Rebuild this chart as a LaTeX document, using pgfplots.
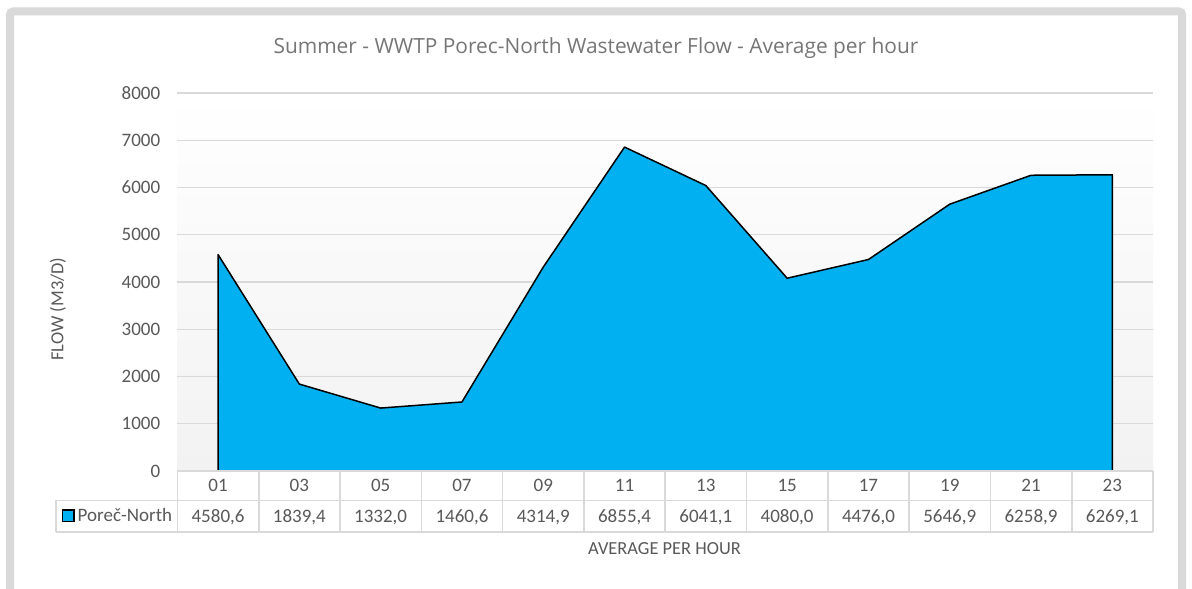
\documentclass[border=0pt]{standalone}
\usepackage{pgfplots}
\pgfplotsset{compat=1.18}
\usepackage{pgfplotstable}
\usepackage{fontspec}
\setmainfont{Carlito}
\newfontfamily\titlefont{Open Sans}
\definecolor{areablue}{RGB}{0,176,240}
\definecolor{gridgray}{RGB}{217,217,217}
\definecolor{txtgray}{RGB}{89,89,89}
\definecolor{titlegray}{RGB}{118,118,118}
\definecolor{bggray}{RGB}{242,242,242}
\definecolor{framegray}{RGB}{217,217,217}

\pgfplotstableread{
x hour flow
0 01 4580.6
1 03 1839.4
2 05 1332.0
3 07 1460.6
4 09 4314.9
5 11 6855.4
6 13 6041.1
7 15 4080.0
8 17 4476.0
9 19 5646.9
10 21 6258.9
11 23 6269.1
}\flowdata

\begin{document}
\begin{tikzpicture}[x=1pt,y=1pt]
\useasboundingbox (0,0) rectangle (1192,589);
\clip (0,0) rectangle (1192,589);
\fill[white] (0,0) rectangle (1192,589);
\draw[framegray, line width=8pt, rounded corners=3pt] (10,577.5) rectangle (1182,-20);

\begin{axis}[
  at={(177.4pt,118pt)}, anchor=south west,
  width=975.6pt, height=378pt, scale only axis,
  xmin=-0.5, xmax=11.5, ymin=0, ymax=8000,
  ytick={0,1000,...,8000},
  xtick=\empty,
  ymajorgrids, grid style={gridgray, line width=1.3pt},
  axis line style={draw=none},
  major tick length=0pt,
  axis background/.style={shade, top color=white, bottom color=bggray},
  /pgf/number format/assume math mode=true,
  /pgf/number format/1000 sep={},
  yticklabel style={font=\fontsize{19}{22}\selectfont, text=txtgray, anchor=east, inner sep=0pt, xshift=-17pt},
  clip=false,
]
\addplot[fill=areablue, draw=black, line width=1.5pt, line join=round] table[x=x, y=flow] {\flowdata} \closedcycle;
\addplot[draw=none, mark=none, point meta=explicit symbolic, nodes near coords,
  nodes near coords style={font=\fontsize{19}{22}\selectfont, text=txtgray, anchor=base, yshift=-21pt, inner sep=0pt}]
  table[x=x, y expr=0, meta=hour] {\flowdata};
\addplot[draw=none, mark=none, point meta=explicit,
  nodes near coords={\pgfmathprintnumber[fixed, fixed zerofill, precision=1, use comma, 1000 sep={}, assume math mode=true]{\pgfplotspointmeta}},
  nodes near coords style={font=\fontsize{19}{22}\selectfont, text=txtgray, anchor=base, yshift=-51.7pt, inner sep=0pt}]
  table[x=x, y expr=0, meta=flow] {\flowdata};
\end{axis}

% data table grid
\begin{scope}[gridgray, line width=1.6pt]
\draw (177.4,118) -- (1153,118);
\draw (56,88.5) -- (1153,88.5);
\draw (56,57) -- (1153,57);
\draw (56,88.5) -- (56,57);
\foreach \k in {0,...,12} {
  \draw ({177.4+81.3*\k},118) -- ({177.4+81.3*\k},57);
}
\end{scope}
% legend key
\draw[fill=areablue, draw=black, line width=1.3pt] (62.5,67.5) rectangle (74,79);
\node[anchor=base west, inner sep=0pt, text=txtgray, font=\fontsize{19}{22}\selectfont] at (77.5,67.3) {Poreč-North};

% title and labels
\node[anchor=base, inner sep=0pt, text=titlegray, font=\titlefont\fontsize{20.9}{24}\selectfont] at (596,535.7) {Summer - WWTP Porec-North Wastewater Flow - Average per hour};
\node[anchor=base, inner sep=0pt, text=txtgray, font=\fontsize{18.4}{22}\selectfont] at (664.5,34) {AVERAGE PER HOUR};
\node[anchor=base, rotate=90, inner sep=0pt, text=txtgray, font=\fontsize{18.4}{22}\selectfont] at (63.3,280) {FLOW (M3/D)};
\end{tikzpicture}
\end{document}
